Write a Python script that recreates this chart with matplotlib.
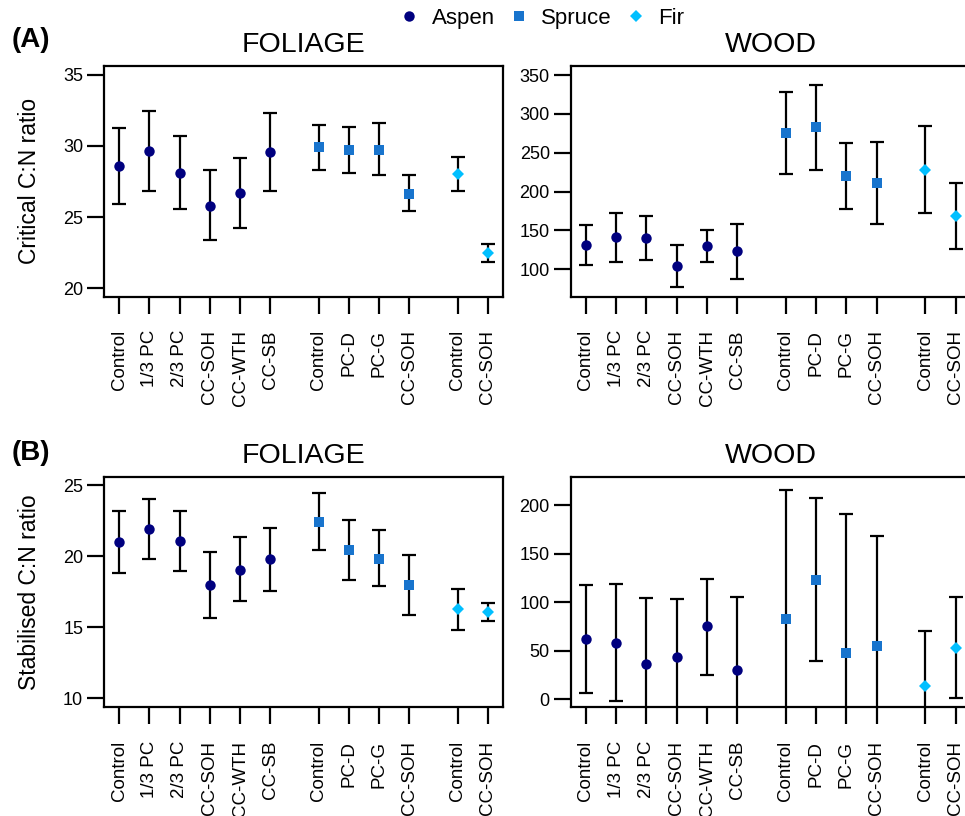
import numpy as np
import matplotlib
matplotlib.use("Agg")
import matplotlib.pyplot as plt
from matplotlib.lines import Line2D

plt.rcParams['font.family'] = ['Liberation Sans', 'DejaVu Sans']

# ---------------- data ----------------
aspen_labels = ["Control", "1/3 PC", "2/3 PC", "CC-SOH", "CC-WTH", "CC-SB"]
spruce_labels = ["Control", "PC-D", "PC-G", "CC-SOH"]
fir_labels = ["Control", "CC-SOH"]

# (A) critical C:N, foliage
crit_fol_aspen = [28.6, 29.65, 28.1, 25.8, 26.7, 29.6]
crit_fol_aspen_lo = [25.9, 26.85, 25.55, 23.35, 24.2, 26.8]
crit_fol_aspen_hi = [31.25, 32.45, 30.7, 28.3, 29.15, 32.35]
crit_fol_spruce = [29.9, 29.75, 29.75, 26.65]
crit_fol_spruce_lo = [28.3, 28.1, 27.95, 25.4]
crit_fol_spruce_hi = [31.45, 31.35, 31.6, 27.95]
crit_fol_fir = [28.05, 22.45]
crit_fol_fir_lo = [26.85, 21.85]
crit_fol_fir_hi = [29.25, 23.1]

# (A) critical C:N, wood
crit_wood_aspen = [131, 141, 140, 104, 130, 123]
crit_wood_aspen_lo = [105, 109, 112, 77, 110, 88]
crit_wood_aspen_hi = [157, 173, 169, 131, 150, 158]
crit_wood_spruce = [275, 283, 220, 211]
crit_wood_spruce_lo = [222, 228, 178, 158]
crit_wood_spruce_hi = [328, 337, 262, 264]
crit_wood_fir = [228, 168]
crit_wood_fir_lo = [172, 126]
crit_wood_fir_hi = [284, 211]

# (B) stabilised C:N, foliage
stab_fol_aspen = [21.0, 21.95, 21.1, 18.0, 19.07, 19.8]
stab_fol_aspen_lo = [18.82, 19.82, 18.98, 15.68, 16.83, 17.58]
stab_fol_aspen_hi = [23.22, 24.04, 23.22, 20.29, 21.35, 22.03]
stab_fol_spruce = [22.4, 20.43, 19.85, 18.0]
stab_fol_spruce_lo = [20.46, 18.35, 17.88, 15.87]
stab_fol_spruce_hi = [24.44, 22.59, 21.86, 20.11]
stab_fol_fir = [16.26, 16.05]
stab_fol_fir_lo = [14.81, 15.47]
stab_fol_fir_hi = [17.69, 16.69]

# (B) stabilised C:N, wood
stab_wood_aspen = [61.7, 58.3, 35.9, 43.4, 75.2, 29.7]
stab_wood_aspen_lo = [6.2, -2.1, -32.7, -17.0, 25.5, -45.8]
stab_wood_aspen_hi = [117.5, 118.6, 104.5, 103.8, 124.4, 105.2]
stab_wood_spruce = [82.4, 123.4, 47.2, 55.2]
stab_wood_spruce_lo = [-51.4, 39.3, -96.3, -58.3]
stab_wood_spruce_hi = [216.2, 207.6, 190.7, 168.7]
stab_wood_fir = [13.8, 52.8]
stab_wood_fir_lo = [-43.1, 1.0]
stab_wood_fir_hi = [70.7, 105.2]

# positions of the three species groups along x
pos_aspen = np.arange(6)
pos_spruce = np.arange(4) + 6.6
pos_fir = np.arange(2) + 11.2
all_pos = np.concatenate([pos_aspen, pos_spruce, pos_fir])
all_labels = aspen_labels + spruce_labels + fir_labels

c_aspen = "#00007F"
c_spruce = "#1874CD"
c_fir = "#00BFFF"
ms_circle, ms_square, ms_diamond = 7.5, 7.5, 6.5


def draw(ax, groups, ylim, yticks):
    for pos, mid, lo, hi, col, mk, ms in groups:
        mid = np.array(mid)
        err = [mid - np.array(lo), np.array(hi) - mid]
        ax.errorbar(pos, mid, yerr=err, fmt='none', ecolor='black',
                    elinewidth=1.6, capsize=5, capthick=1.6, zorder=2)
        ax.plot(pos, mid, linestyle='none', marker=mk, color=col,
                markersize=ms, markeredgewidth=0, zorder=3)
    ax.set_xlim(-0.5, 12.7)
    ax.set_ylim(*ylim)
    ax.set_yticks(yticks)
    ax.set_xticks(all_pos)
    ax.set_xticklabels(all_labels, rotation=90, fontsize=13.5)
    ax.tick_params(axis='y', labelsize=13, length=12, width=1.6, pad=3)
    ax.tick_params(axis='x', length=12, width=1.6, pad=12)
    for s in ax.spines.values():
        s.set_linewidth(1.6)


fig = plt.figure(figsize=(9.65, 8.16), dpi=100)

ax1 = fig.add_axes([0.1078, 0.6364, 0.4135, 0.2827])
ax2 = fig.add_axes([0.5914, 0.6364, 0.4145, 0.2827])
ax3 = fig.add_axes([0.1078, 0.1332, 0.4135, 0.2822])
ax4 = fig.add_axes([0.5914, 0.1332, 0.4145, 0.2822])

draw(ax1, [(pos_aspen, crit_fol_aspen, crit_fol_aspen_lo, crit_fol_aspen_hi, c_aspen, 'o', ms_circle),
           (pos_spruce, crit_fol_spruce, crit_fol_spruce_lo, crit_fol_spruce_hi, c_spruce, 's', ms_square),
           (pos_fir, crit_fol_fir, crit_fol_fir_lo, crit_fol_fir_hi, c_fir, 'D', ms_diamond)],
     (19.39, 35.63), [20, 25, 30, 35])
draw(ax2, [(pos_aspen, crit_wood_aspen, crit_wood_aspen_lo, crit_wood_aspen_hi, c_aspen, 'o', ms_circle),
           (pos_spruce, crit_wood_spruce, crit_wood_spruce_lo, crit_wood_spruce_hi, c_spruce, 's', ms_square),
           (pos_fir, crit_wood_fir, crit_wood_fir_lo, crit_wood_fir_hi, c_fir, 'D', ms_diamond)],
     (64.7, 361.6), [100, 150, 200, 250, 300, 350])
draw(ax3, [(pos_aspen, stab_fol_aspen, stab_fol_aspen_lo, stab_fol_aspen_hi, c_aspen, 'o', ms_circle),
           (pos_spruce, stab_fol_spruce, stab_fol_spruce_lo, stab_fol_spruce_hi, c_spruce, 's', ms_square),
           (pos_fir, stab_fol_fir, stab_fol_fir_lo, stab_fol_fir_hi, c_fir, 'D', ms_diamond)],
     (9.37, 25.59), [10, 15, 20, 25])
draw(ax4, [(pos_aspen, stab_wood_aspen, stab_wood_aspen_lo, stab_wood_aspen_hi, c_aspen, 'o', ms_circle),
           (pos_spruce, stab_wood_spruce, stab_wood_spruce_lo, stab_wood_spruce_hi, c_spruce, 's', ms_square),
           (pos_fir, stab_wood_fir, stab_wood_fir_lo, stab_wood_fir_hi, c_fir, 'D', ms_diamond)],
     (-8.3, 229.2), [0, 50, 100, 150, 200])

for ax, t in [(ax1, "FOLIAGE"), (ax2, "WOOD"), (ax3, "FOLIAGE"), (ax4, "WOOD")]:
    ax.set_title(t, fontsize=20.5, pad=10)

ax1.set_ylabel("Critical C:N ratio", fontsize=16.5, labelpad=16)
ax3.set_ylabel("Stabilised C:N ratio", fontsize=16.5, labelpad=16)

fig.text(0.012, 0.951, "(A)", fontsize=20, fontweight='bold', va='center')
fig.text(0.012, 0.445, "(B)", fontsize=20, fontweight='bold', va='center')

handles = [Line2D([], [], linestyle='none', marker='o', color=c_aspen, markersize=ms_circle, markeredgewidth=0),
           Line2D([], [], linestyle='none', marker='s', color=c_spruce, markersize=ms_square, markeredgewidth=0),
           Line2D([], [], linestyle='none', marker='D', color=c_fir, markersize=ms_diamond, markeredgewidth=0)]
fig.legend(handles, ["Aspen", "Spruce", "Fir"], loc='center', bbox_to_anchor=(0.561, 0.977),
           ncol=3, frameon=False, fontsize=16, handletextpad=0.5, columnspacing=0.6,
           handlelength=1.0, borderpad=0)

fig.savefig("out.png", dpi=100)
